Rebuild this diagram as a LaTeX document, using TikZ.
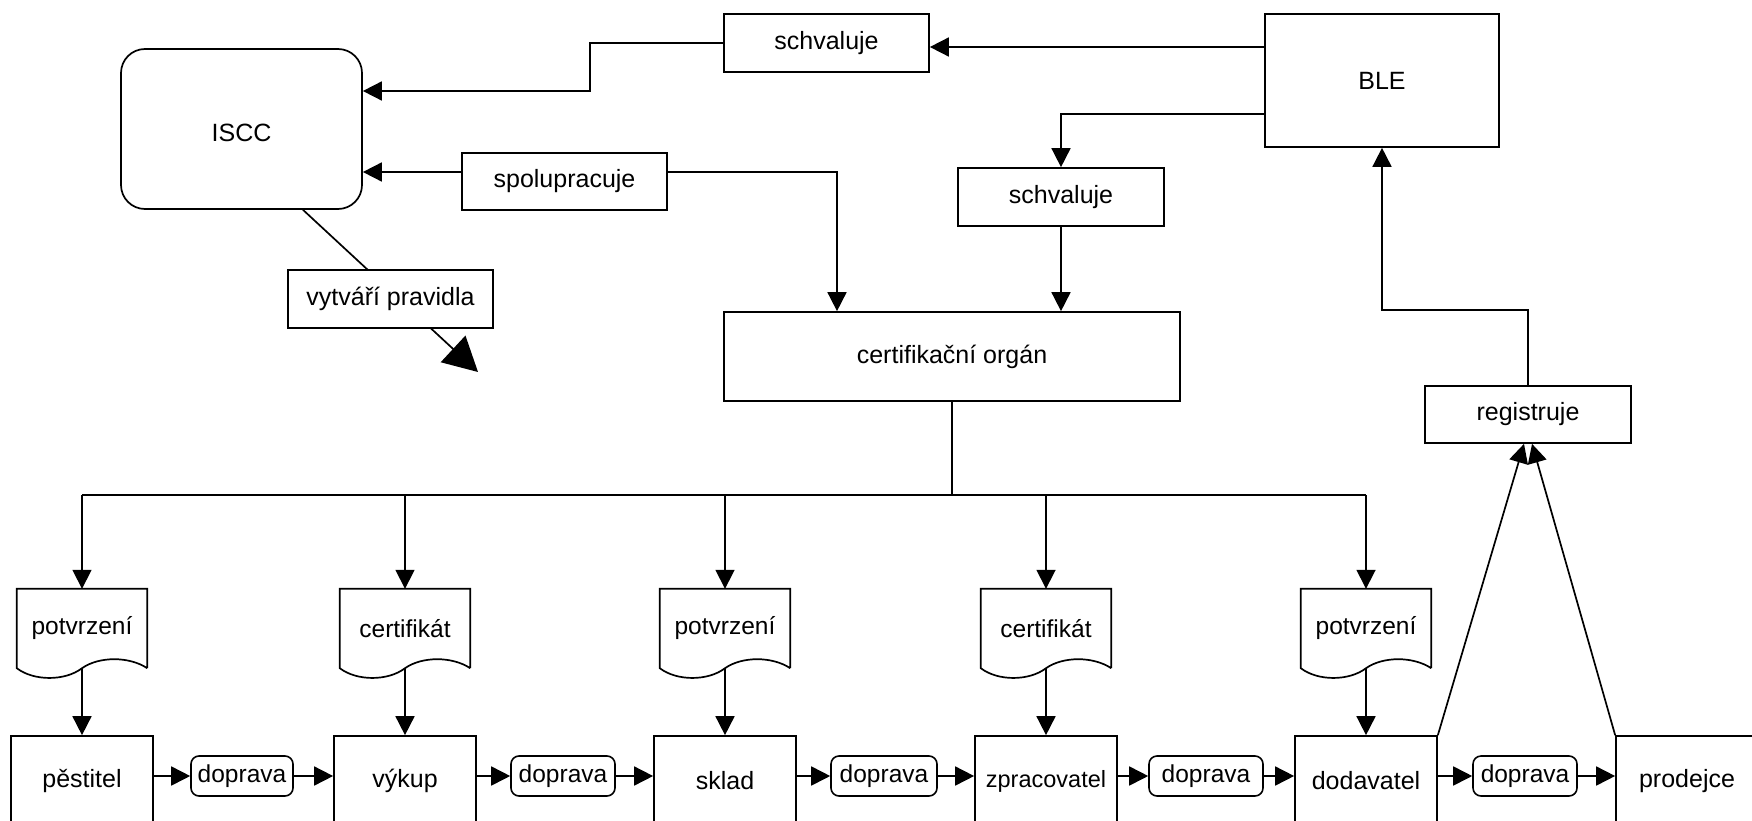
\documentclass[tikz,border=0pt]{standalone}
\usepackage{fontspec}
\setmainfont{Liberation Sans}
\usetikzlibrary{arrows.meta,calc}
\tikzset{
  wh/.style 2 args={minimum width=#1pt, minimum height=#2pt},
  lbl/.style={draw, line width=1.7pt, fill=white, inner sep=0pt, font=\fontsize{25}{30}\selectfont},
  conn/.style={line width=1.7pt},
  arr/.style={conn, -{Triangle[length=19pt,width=19pt]}},
  bigarr/.style={conn, -{Triangle[length=34pt,width=36pt]}},
  stage/.style={lbl, wh={142}{90}},
  trans/.style={draw, line width=1.6pt, fill=white, rounded corners=8pt, inner sep=0pt, minimum height=40pt, font=\fontsize{24.5}{30}\selectfont},
  docnode/.style={inner sep=0pt, wh={130}{79}, font=\fontsize{24.5}{30}\selectfont},
  docline/.style={line width=1.7pt},
}
\newcommand\docoutline[1]{%
  \draw[docline] (#1.south east) -- (#1.north east) -- (#1.north west) -- (#1.south west)
    .. controls ($(#1.south west)+(17,-13)$) and ($(#1.south)+(-17,-13)$) .. (#1.south)
    .. controls ($(#1.south)+(17,12)$) and ($(#1.south east)+(-18,12)$) .. (#1.south east);}
\begin{document}
\begin{tikzpicture}[x=1pt,y=1pt]
\useasboundingbox (0,0) rectangle (1752,-821);
\clip (0,0) rectangle (1752,-821);

% top nodes
\node[lbl, wh={205}{58}] (s1) at (826.5,-43) {schvaluje};
\node[lbl, wh={234}{133}] (ble) at (1382,-80.5) {BLE};
\node[lbl, rounded corners=24pt, wh={241}{160}, text height=26pt] (iscc) at (241.5,-129) {ISCC};
\node[lbl, wh={205}{57}] (sp) at (564.5,-181.5) {spolupracuje};
\node[lbl, wh={206}{58}] (s2) at (1061,-197) {schvaluje};
\node[lbl, wh={456}{89}] (cert) at (952,-356.5) {certifikační orgán};
\node[lbl, wh={206}{57}] (reg) at (1528,-414.5) {registruje};

% rules line through label
\coordinate (tip) at (478,-372);
\draw[bigarr] ($(iscc.south)+(61.5,0)$) -- (tip);
\node[lbl, wh={205}{58}] (vp) at (390.5,-299) {vytváří pravidla};

% top connectors
\coordinate (c3) at (0,-47);
\draw[arr] (ble.west |- c3) -- (s1.east |- c3);
\coordinate (c0) at (590,-43);
\coordinate (c0b) at (590,-91);
\draw[arr] (s1.west) -- (c0) -- (c0b) -- (iscc.east |- c0b);
\coordinate (c1) at (837,-172);
\draw[arr] (sp.west |- c1) -- (iscc.east |- c1);
\draw[arr] (sp.east |- c1) -- (c1) -- (c1 |- cert.north);
\coordinate (c2) at (1061,-114);
\draw[arr] (ble.west |- c2) -- (c2) -- (c2 |- s2.north);
\draw[arr] (s2.south) -- (s2.south |- cert.north);
\coordinate (c4) at (0,-310);
\draw[arr] (reg.north) -- (reg.north |- c4) -- (ble.south |- c4) -- (ble.south);

% documents
\node[docnode] (d1) at (82,-628.5) {potvrzení};
\node[docnode] (d2) at (405,-628.5) {certifikát};
\node[docnode] (d3) at (725,-628.5) {potvrzení};
\node[docnode] (d4) at (1046,-628.5) {certifikát};
\node[docnode] (d5) at (1366,-628.5) {potvrzení};
\docoutline{d1}\docoutline{d2}\docoutline{d3}\docoutline{d4}\docoutline{d5}

% stages
\node[stage] (b1) at (82,-781) {pěstitel};
\node[stage] (b2) at (405,-781) {výkup};
\node[stage] (b3) at (725,-781) {sklad};
\node[stage] (b4) at (1046,-781) {\fontsize{23.5}{28}\selectfont zpracovatel};
\node[stage] (b5) at (1366,-781) {dodavatel};
\node[stage] (b6) at (1687,-781) {prodejce};

% transports
\node[trans, minimum width=102pt] (t1) at (242,-776) {doprava};
\node[trans, minimum width=104pt] (t2) at (563,-776) {doprava};
\node[trans, minimum width=106pt] (t3) at (884,-776) {doprava};
\node[trans, minimum width=114pt] (t4) at (1206,-776) {doprava};
\node[trans, minimum width=104pt] (t5) at (1525,-776) {doprava};

\draw[arr] (b1.east |- t1.west) -- (t1.west);
\draw[arr] (t1.east) -- (b2.west |- t1.east);
\draw[arr] (b2.east |- t2.west) -- (t2.west);
\draw[arr] (t2.east) -- (b3.west |- t2.east);
\draw[arr] (b3.east |- t3.west) -- (t3.west);
\draw[arr] (t3.east) -- (b4.west |- t3.east);
\draw[arr] (b4.east |- t4.west) -- (t4.west);
\draw[arr] (t4.east) -- (b5.west |- t4.east);
\draw[arr] (b5.east |- t5.west) -- (t5.west);
\draw[arr] (t5.east) -- (b6.west |- t5.east);

% distribution bus
\coordinate (bus) at (0,-495);
\draw[conn] (cert.south) -- (cert.south |- bus);
\draw[conn] (d1.north |- bus) -- (d5.north |- bus);
\foreach \i in {1,...,5}{
  \draw[arr] (d\i.north |- bus) -- (d\i.north);
  \draw[arr] (d\i.south) -- (b\i.north);
}

% registration
\draw[arr] (b5.north east) -- ($(reg.south)+(-4,0)$);
\draw[arr] (b6.north west) -- ($(reg.south)+(4,0)$);
\end{tikzpicture}
\end{document}
